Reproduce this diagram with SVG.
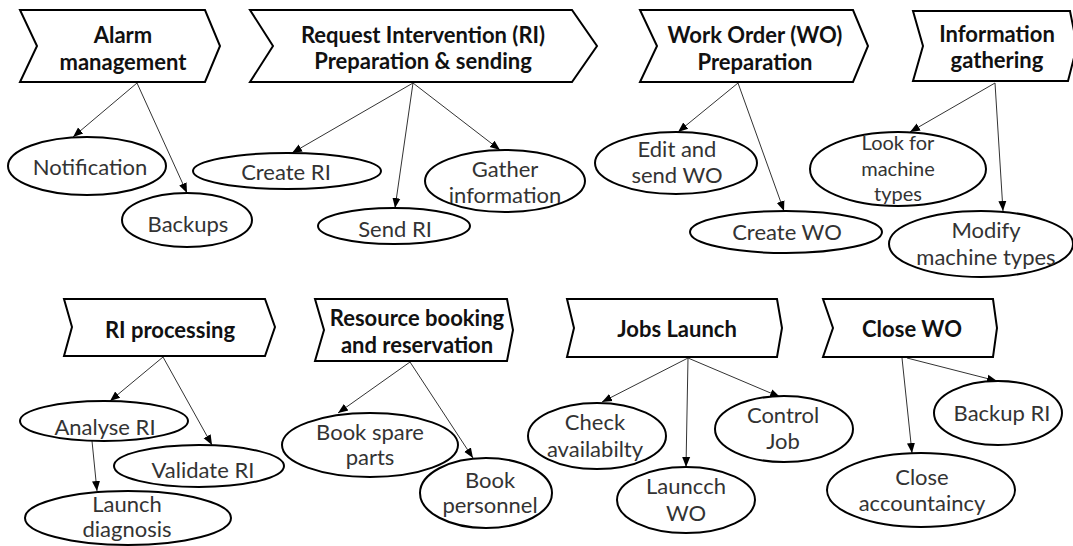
<svg xmlns="http://www.w3.org/2000/svg" width="1073" height="546" viewBox="0 0 1073 546">
<style>
.chev{fill:#fff;stroke:#000;stroke-width:2;stroke-linejoin:miter}
.ell{fill:#fff;stroke:#000;stroke-width:2}
.h{font-family:Lato,"Liberation Sans",sans-serif;font-weight:bold;font-size:22px;fill:#111;text-anchor:middle}
.t{font-family:Lato,"Liberation Sans",sans-serif;font-size:22px;fill:#333;text-anchor:middle}
.s{font-size:20px}
.c{stroke:#333;stroke-width:1;fill:none;marker-end:url(#ah)}
</style>
<defs>
<marker id="ah" markerUnits="userSpaceOnUse" markerWidth="10" markerHeight="10" viewBox="0 0 10 10" refX="10" refY="5" orient="auto">
<path d="M0,1 L10,5 L0,9 Z" fill="#000"/>
</marker>
</defs>
<rect width="1073" height="546" fill="#fff"/>
<g id="connectors">
<line class="c" x1="137" y1="83" x2="73" y2="137"/>
<line class="c" x1="137" y1="83" x2="187" y2="193"/>
<line class="c" x1="413" y1="83" x2="292" y2="153"/>
<line class="c" x1="413" y1="83" x2="395" y2="208"/>
<line class="c" x1="413" y1="83" x2="500" y2="150"/>
<line class="c" x1="738" y1="83" x2="678" y2="132"/>
<line class="c" x1="738" y1="83" x2="784" y2="211"/>
<line class="c" x1="995" y1="83" x2="910" y2="132"/>
<line class="c" x1="995" y1="83" x2="1003" y2="211"/>
<line class="c" x1="163" y1="357" x2="110" y2="401"/>
<line class="c" x1="163" y1="357" x2="212" y2="445"/>
<line class="c" x1="92" y1="441" x2="97" y2="491"/>
<line class="c" x1="410" y1="362" x2="338" y2="413"/>
<line class="c" x1="410" y1="362" x2="473" y2="458"/>
<line class="c" x1="688" y1="358" x2="602" y2="402"/>
<line class="c" x1="688" y1="358" x2="686" y2="467"/>
<line class="c" x1="688" y1="358" x2="780" y2="397"/>
<line class="c" x1="902" y1="358" x2="912" y2="453"/>
<line class="c" x1="907" y1="358" x2="997" y2="381"/>
</g>
<g id="alarm">
<polygon class="chev" points="20,10 205,10 220,46 205,82 20,82 37,46"/>
<text class="h" x="123" y="43">Alarm</text>
<text class="h" x="123" y="70">management</text>
</g>
<g id="ri-prep">
<polygon class="chev" points="250,10 572,10 597,46 572,82 250,82 273,46"/>
<text class="h" x="423" y="43">Request Intervention (RI)</text>
<text class="h" x="423" y="69">Preparation &amp; sending</text>
</g>
<g id="wo-prep">
<polygon class="chev" points="640,10 853,10 868,46 853,82 640,82 657,46"/>
<text class="h" x="755" y="43">Work Order (WO)</text>
<text class="h" x="755" y="70">Preparation</text>
</g>
<g id="info-gathering">
<polygon class="chev" points="913,11 1070,11 1077,46 1068,81 913,81 923,46"/>
<text class="h" x="997" y="42">Information</text>
<text class="h" x="997" y="68">gathering</text>
</g>
<g id="notification"><ellipse class="ell" cx="87" cy="166" rx="79" ry="29"/><text class="t" x="90" y="175">Notification</text></g>
<g id="backups"><ellipse class="ell" cx="187" cy="220" rx="65" ry="27"/><text class="t" x="188" y="232">Backups</text></g>
<g id="create-ri"><ellipse class="ell" cx="287" cy="171" rx="94" ry="18"/><text class="t" x="286" y="180">Create RI</text></g>
<g id="send-ri"><ellipse class="ell" cx="394" cy="226" rx="76" ry="18"/><text class="t" x="395" y="237">Send RI</text></g>
<g id="gather-info"><ellipse class="ell" cx="505" cy="181" rx="80" ry="31"/><text class="t" x="505" y="177">Gather</text><text class="t" x="505" y="203">information</text></g>
<g id="edit-send-wo"><ellipse class="ell" cx="676" cy="163" rx="81" ry="31"/><text class="t" x="677" y="157">Edit and</text><text class="t" x="677" y="183">send WO</text></g>
<g id="create-wo"><ellipse class="ell" cx="786" cy="232" rx="96" ry="21"/><text class="t" x="787" y="240">Create WO</text></g>
<g id="look-for"><ellipse class="ell" cx="898" cy="169" rx="88" ry="37"/><text class="t s" x="898" y="150">Look for</text><text class="t s" x="898" y="176">machine</text><text class="t s" x="898" y="201">types</text></g>
<g id="modify"><ellipse class="ell" cx="981" cy="244" rx="92" ry="33"/><text class="t" x="986" y="238">Modify</text><text class="t" x="986" y="265">machine types</text></g>
<g id="ri-processing">
<polygon class="chev" points="64,299 265,299 275,327 265,356 64,356 72,327"/>
<text class="h" x="170" y="338">RI processing</text>
</g>
<g id="resource-booking">
<polygon class="chev" points="315,299 507,299 513,330 507,361 315,361 324,330"/>
<text class="h" x="417" y="326">Resource booking</text>
<text class="h" x="417" y="353">and reservation</text>
</g>
<g id="jobs-launch">
<polygon class="chev" points="567,299 777,299 782,328 777,357 567,357 574,328"/>
<text class="h" x="677" y="337">Jobs Launch</text>
</g>
<g id="close-wo">
<polygon class="chev" points="823,299 993,299 997,328 993,357 823,357 833,328"/>
<text class="h" x="912" y="337">Close WO</text>
</g>
<g id="analyse-ri"><ellipse class="ell" cx="104" cy="421" rx="84" ry="20"/><text class="t" x="105" y="435">Analyse RI</text></g>
<g id="validate-ri"><ellipse class="ell" cx="199" cy="466" rx="85" ry="21"/><text class="t" x="203" y="478">Validate RI</text></g>
<g id="launch-diagnosis"><ellipse class="ell" cx="128" cy="518" rx="103" ry="27"/><text class="t" x="127" y="512">Launch</text><text class="t" x="127" y="537">diagnosis</text></g>
<g id="book-spare"><ellipse class="ell" cx="370" cy="445" rx="88" ry="32"/><text class="t" x="370" y="440">Book spare</text><text class="t" x="370" y="465">parts</text></g>
<g id="book-personnel"><ellipse class="ell" cx="486" cy="493" rx="66" ry="35"/><text class="t" x="490" y="488">Book</text><text class="t" x="490" y="513">personnel</text></g>
<g id="check-availability"><ellipse class="ell" cx="597" cy="436" rx="69" ry="33"/><text class="t" x="595" y="430">Check</text><text class="t" x="595" y="457">availabilty</text></g>
<g id="launcch-wo"><ellipse class="ell" cx="686" cy="500" rx="69" ry="33"/><text class="t" x="686" y="494">Launcch</text><text class="t" x="686" y="521">WO</text></g>
<g id="control-job"><ellipse class="ell" cx="784" cy="429" rx="69" ry="33"/><text class="t" x="783" y="423">Control</text><text class="t" x="783" y="449">Job</text></g>
<g id="backup-ri"><ellipse class="ell" cx="998" cy="413" rx="64" ry="32"/><text class="t" x="1002" y="421">Backup RI</text></g>
<g id="close-accountaincy"><ellipse class="ell" cx="921" cy="490" rx="94" ry="37"/><text class="t" x="922" y="485">Close</text><text class="t" x="922" y="511">accountaincy</text></g>
</svg>
